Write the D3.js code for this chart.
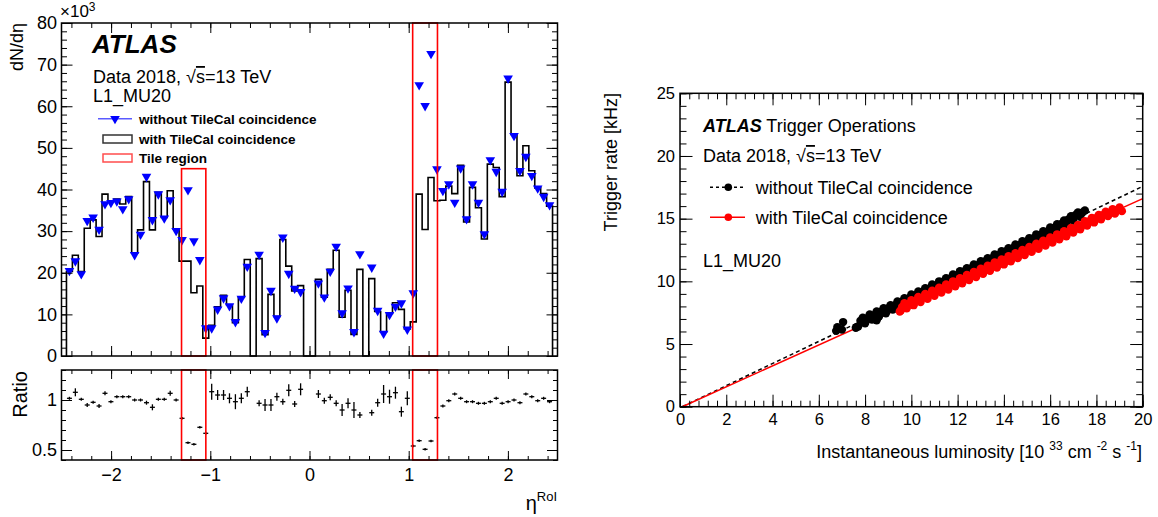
<!DOCTYPE html>
<html>
<head>
<meta charset="utf-8">
<script src="https://cdn.jsdelivr.net/npm/d3@7"></script>
<style>
body{margin:0;background:#fff;}
text{font-family:"Liberation Sans",Arial,Helvetica,sans-serif;}
</style>
</head>
<body>
<svg id="chart" width="1158" height="517"></svg>
<script>
// ---------------- left panel: eta of L1_MU20 RoIs (x10^3) ----------------
var etaLow = -2.45, etaHigh = 2.45;   // 82 equal bins
var withTile = [20.3,24.2,20.3,30.7,32.7,28.7,38.9,37.3,37.7,36.5,
  38.3,24.7,30.3,41.9,30.3,39.3,33.3,39.7,30.5,22.8,
  22.8,15.2,16.8,4.3,7.4,11.8,14.6,12.3,8.0,14.1,
  23.2,0,23.4,5.1,14.8,9.5,28.0,21.6,15.6,16.9,
  0,0,18.4,14.1,20.8,25.4,9.3,15.8,5.2,20.8,
  0,18.6,10.7,5.8,10.2,12.8,11.2,6.5,8.2,38.9,
  30.4,42.9,37.3,37.4,40.8,39.0,45.8,32.2,40.5,35.6,
  28.1,46.1,45.3,38.3,65.8,53.2,43.3,50.5,44.5,40.4,
  39.0,36.0];
var withoutTile = [20.5,22.8,19.7,32.5,33.3,30.4,36.5,36.8,37.2,35.3,
  37.7,24.3,29.2,43.1,32.7,38.9,33.1,37.5,30.1,27.9,
  39.9,27.6,23.1,6.7,6.7,11.2,13.9,12.0,8.2,13.8,
  21.5,null,24.4,5.6,15.7,9.1,28.5,19.8,16.2,15.4,
  null,null,17.5,14.1,20.3,26.3,10.3,16.3,5.8,24.5,
  null,21.3,10.9,5.4,9.9,11.9,12.7,6.4,15.1,65.1,
  60.1,72.6,44.9,39.7,41.3,36.9,45.1,32.9,41.3,36.9,
  29.3,47.1,44.3,39.5,66.7,52.9,44.5,47.9,43.3,40.3,
  38.3,36.3];
var ratio = [1.017,1.077,1.007,0.95,0.977,0.94,1.067,0.983,1.033,1.033,
  1.033,1.0,1.0,0.973,0.927,1.007,1.007,1.067,1.0,0.817,
  0.573,0.557,0.727,0.667,1.083,1.05,1.05,1.017,0.983,1.017,
  1.083,null,0.967,0.95,0.95,1.033,0.983,1.097,0.96,1.107,
  null,null,1.06,0.993,1.027,0.967,0.90,0.967,0.90,0.85,
  null,0.873,0.973,1.06,1.033,1.073,0.883,1.017,0.54,0.593,
  0.507,0.59,0.823,0.94,0.993,1.06,1.017,0.983,0.983,0.967,
  0.967,0.983,1.017,0.967,0.983,1.0,0.973,1.06,1.033,0.993,
  1.017,0.983];
var ratioErr = [.015,.04,.015,.02,.015,.02,.02,.015,.015,.015,
  .015,.015,.015,.02,.03,.015,.015,.025,.015,.01,
  .008,.008,.01,.015,.08,.05,.05,.05,.075,.05,
  .05,null,.03,.06,.06,.04,.03,.06,.03,.06,
  null,null,.04,.03,.03,.03,.06,.05,.08,.03,
  null,.03,.04,.09,.07,.06,.05,.07,.008,.008,
  .008,.008,.01,.015,.015,.015,.015,.015,.015,.015,
  .015,.015,.015,.015,.015,.015,.015,.015,.015,.015,
  .015,.015];
// tile regions: [eta from, eta to, top of box in the dN/deta panel]
var tileRegions = [[-1.29,-1.045,45],[1.04,1.29,80]];

// ---------------- right panel: trigger rate vs luminosity ----------------
var ptsWithout = [[6.75,6.05],[6.8,6.35],[7.0,6.15],[7.05,6.75],[7.6,6.3],[8.5,6.9],
  [7.7,6.40],[7.8,6.85],[7.9,7.10],[8.0,6.65],[8.1,7.05],[8.2,7.35],
  [8.3,6.95],[8.4,7.30],[8.5,7.60],[8.6,7.20],[8.7,7.60],[8.8,7.85],
  [8.9,7.45],[9.0,7.85],[9.1,8.10],[9.2,7.75],[9.3,8.10],[9.4,8.40],
  [9.5,8.00],[9.6,8.40],[9.7,8.65],[9.8,8.25],[9.9,8.65],[10.0,8.95],
  [10.1,8.55],[10.2,8.90],[10.3,9.20],[10.4,8.80],[10.5,9.20],[10.6,9.45],
  [10.7,9.05],[10.8,9.45],[10.9,9.75],[11.0,9.35],[11.1,9.70],[11.2,10.00],
  [11.3,9.60],[11.4,10.00],[11.5,10.25],[11.6,9.85],[11.7,10.25],[11.8,10.55],
  [11.9,10.15],[12.0,10.50],[12.1,10.80],[12.2,10.40],[12.3,10.80],[12.4,11.05],
  [12.5,10.65],[12.6,11.05],[12.7,11.35],[12.8,10.95],[12.9,11.30],[13.0,11.60],
  [13.1,11.20],[13.2,11.60],[13.3,11.85],[13.4,11.45],[13.5,11.85],[13.6,12.15],
  [13.7,11.75],[13.8,12.10],[13.9,12.40],[14.0,12.00],[14.1,12.40],[14.2,12.65],
  [14.3,12.25],[14.4,12.65],[14.5,12.95],[14.6,12.55],[14.7,12.90],[14.8,13.20],
  [14.9,12.80],[15.0,13.20],[15.1,13.45],[15.2,13.05],[15.3,13.45],[15.4,13.75],
  [15.5,13.35],[15.6,13.70],[15.7,14.00],[15.8,13.60],[15.9,14.00],[16.0,14.30],
  [16.1,13.90],[16.2,14.30],[16.3,14.55],[16.4,14.20],[16.5,14.60],[16.6,14.85],
  [16.7,14.50],[16.8,14.95],[16.9,15.20],[17.0,14.85],[17.1,15.30],[17.2,15.50],
  [17.3,15.15],[17.4,15.50],[17.5,15.65]];
var ptsWith = [[9.55,7.7],
  [9.5,7.6],[9.6,7.95],[9.7,8.25],[9.8,7.85],[9.9,8.2],[10.0,8.5],
  [10.1,8.1],[10.2,8.45],[10.3,8.75],[10.4,8.35],[10.5,8.7],[10.6,9.0],
  [10.7,8.6],[10.8,8.95],[10.9,9.25],[11.0,8.85],[11.1,9.2],[11.2,9.5],
  [11.3,9.1],[11.4,9.45],[11.5,9.75],[11.6,9.35],[11.7,9.7],[11.8,10.0],
  [11.9,9.6],[12.0,9.95],[12.1,10.25],[12.2,9.85],[12.3,10.2],[12.4,10.5],
  [12.5,10.1],[12.6,10.45],[12.7,10.75],[12.8,10.35],[12.9,10.7],[13.0,11.0],
  [13.1,10.6],[13.2,10.95],[13.3,11.25],[13.4,10.85],[13.5,11.2],[13.6,11.5],
  [13.7,11.1],[13.8,11.45],[13.9,11.75],[14.0,11.35],[14.1,11.7],[14.2,12.0],
  [14.3,11.6],[14.4,11.95],[14.5,12.25],[14.6,11.85],[14.7,12.2],[14.8,12.5],
  [14.9,12.1],[15.0,12.45],[15.1,12.75],[15.2,12.35],[15.3,12.7],[15.4,13.0],
  [15.5,12.6],[15.6,12.95],[15.7,13.25],[15.8,12.85],[15.9,13.2],[16.0,13.5],
  [16.1,13.1],[16.2,13.45],[16.3,13.75],[16.4,13.35],[16.5,13.7],[16.6,14.0],
  [16.7,13.6],[16.8,13.95],[16.9,14.25],[17.0,13.9],[17.1,14.2],[17.2,14.5],
  [17.3,14.15],[17.4,14.5],[17.5,14.8],[17.6,14.45],[17.7,14.8],[17.8,15.05],
  [17.9,14.7],[18.0,15.05],[18.1,15.3],[18.2,14.95],[18.3,15.3],[18.4,15.55],
  [18.5,15.2],[18.6,15.5],[18.7,15.75],[18.8,15.4],[18.9,15.7],[19.0,15.9],
  [19.1,15.6]];
// linear fits: [slope, luminosity at zero rate]
var fitWithout = [0.883, 0.1];
var fitWith = [0.834, 0.1];

var svg = d3.select('#chart');

// ROOT style inward ticks: minor ticks first, then majors (with labels)
function ticks(g, axisFn, scale, tr, minors, minLen, majors, majLen, fmt, pad, fs){
  g.append('g').attr('transform', tr)
    .call(axisFn(scale).tickValues(minors).tickSize(-minLen).tickFormat(''));
  var a = g.append('g').attr('transform', tr)
    .call(axisFn(scale).tickValues(majors).tickSize(-majLen).tickPadding(pad)
      .tickFormat(fmt ? fmt : ''));
  a.attr('font-size', fs).attr('font-family', null);
  g.selectAll('.domain').remove();
  g.selectAll('.tick line').attr('stroke', '#000').attr('stroke-width', 1);
  g.selectAll('.tick text').attr('fill', '#000');
}
function steps(a, b, s){
  var out = [];
  for (var i = Math.round(a/s); i <= Math.round(b/s); i++) out.push(+(i*s).toFixed(4));
  return out;
}

// ============ left panel ============
var nBins = withTile.length;
var bw = (etaHigh - etaLow)/nBins;
function edge(i){ return etaLow + i*bw; }
var xE = d3.scaleLinear().domain([-2.5,2.5]).range([61.5,557.5]);
var yN = d3.scaleLinear().domain([0,80]).range([356,23]);
var yR = d3.scaleLinear().domain([0.4,1.3]).range([460,370]);

var left = svg.append('g');

// histogram "with TileCal coincidence"
var hpts = [[edge(0),0]];
withTile.forEach(function(v,i){ hpts.push([edge(i),v],[edge(i+1),v]); });
hpts.push([edge(nBins),0]);
left.append('path')
  .attr('d', d3.line().x(function(d){return xE(d[0]);}).y(function(d){return yN(d[1]);})(hpts))
  .attr('fill','none').attr('stroke','#000').attr('stroke-width',1.6);

// markers "without TileCal coincidence"
var tri = d3.symbol().type(d3.symbolTriangle).size(40)();
left.selectAll('path.mk').data(withoutTile.map(function(v,i){return {v:v,i:i};}).filter(function(d){return d.v!=null;}))
  .enter().append('path').attr('class','mk')
  .attr('d', tri)
  .attr('transform', function(d){return 'translate('+xE(edge(d.i)+bw/2)+','+yN(d.v)+') rotate(180)';})
  .attr('fill','#0000ff');

// ratio points
var rp = ratio.map(function(v,i){return {v:v,e:ratioErr[i],i:i};}).filter(function(d){return d.v!=null;});
var rg = left.selectAll('g.rp').data(rp).enter().append('g').attr('class','rp');
rg.append('line')
  .attr('x1', function(d){return xE(edge(d.i)+bw*0.08);})
  .attr('x2', function(d){return xE(edge(d.i+1)-bw*0.08);})
  .attr('y1', function(d){return yR(d.v);}).attr('y2', function(d){return yR(d.v);})
  .attr('stroke','#000').attr('stroke-width',1.3);
rg.append('line')
  .attr('x1', function(d){return xE(edge(d.i)+bw/2);})
  .attr('x2', function(d){return xE(edge(d.i)+bw/2);})
  .attr('y1', function(d){return yR(d.v-Math.max(d.e,0.012));})
  .attr('y2', function(d){return yR(d.v+Math.max(d.e,0.012));})
  .attr('stroke','#000').attr('stroke-width',1.3);

// tile region boxes
tileRegions.forEach(function(t){
  left.append('rect').attr('x', xE(t[0])).attr('width', xE(t[1])-xE(t[0]))
    .attr('y', yN(t[2])).attr('height', yN(0)-yN(t[2]))
    .attr('fill','none').attr('stroke','#ff0000').attr('stroke-width',1.6);
  left.append('rect').attr('x', xE(t[0])).attr('width', xE(t[1])-xE(t[0]))
    .attr('y', yR(1.3)).attr('height', yR(0.4)-yR(1.3))
    .attr('fill','none').attr('stroke','#ff0000').attr('stroke-width',1.6);
});

// frames
left.append('rect').attr('x',xE(-2.5)).attr('y',yN(80)).attr('width',xE(2.5)-xE(-2.5)).attr('height',yN(0)-yN(80))
  .attr('fill','none').attr('stroke','#000').attr('stroke-width',1.5);
left.append('rect').attr('x',xE(-2.5)).attr('y',yR(1.3)).attr('width',xE(2.5)-xE(-2.5)).attr('height',yR(0.4)-yR(1.3))
  .attr('fill','none').attr('stroke','#000').attr('stroke-width',1.5);

var etaMajor = [-2,-1,0,1,2];
var etaMinor = steps(-2.4,2.4,0.2);
var lt = left.append('g');
ticks(lt, d3.axisBottom, xE, 'translate(0,'+yN(0)+')', etaMinor, 5, etaMajor, 10, null, 0, 18);
ticks(lt, d3.axisTop, xE, 'translate(0,'+yN(80)+')', etaMinor, 5, etaMajor, 10, null, 0, 18);
ticks(lt, d3.axisLeft, yN, 'translate('+xE(-2.5)+',0)', steps(0,80,2), 5.5, steps(0,80,10), 11, d3.format('d'), 4.5, 18);
ticks(lt, d3.axisRight, yN, 'translate('+xE(2.5)+',0)', steps(0,80,2), 5.5, steps(0,80,10), 11, null, 0, 18);
ticks(lt, d3.axisBottom, xE, 'translate(0,'+yR(0.4)+')', etaMinor, 4, etaMajor, 9, d3.format('d'), 8, 18);
ticks(lt, d3.axisTop, xE, 'translate(0,'+yR(1.3)+')', etaMinor, 4, etaMajor, 9, null, 0, 18);
ticks(lt, d3.axisLeft, yR, 'translate('+xE(-2.5)+',0)', steps(0.4,1.3,0.1), 4.5, [0.5,1], 10.5, function(d){return d===1?'1':'0.5';}, 4.5, 18);
ticks(lt, d3.axisRight, yR, 'translate('+xE(2.5)+',0)', steps(0.4,1.3,0.1), 4.5, [0.5,1], 10.5, null, 0, 18);

// left texts
var t1 = left.append('text').attr('x',60).attr('y',17).attr('font-size',17);
t1.append('tspan').text('\u00d710');
t1.append('tspan').attr('dy',-6).attr('font-size',12).text('3');
left.append('text').attr('transform','translate(23,23) rotate(-90)').attr('text-anchor','end')
  .attr('font-size',18).text('dN/d\u03b7');
left.append('text').attr('transform','translate(27,371) rotate(-90)').attr('text-anchor','end')
  .attr('font-size',20).text('Ratio');
var xt = left.append('text').attr('x',557).attr('y',510).attr('text-anchor','end').attr('font-size',20);
xt.append('tspan').text('\u03b7');
xt.append('tspan').attr('dy',-9).attr('font-size',13).text('RoI');

left.append('text').attr('x',92).attr('y',53).attr('font-size',26).attr('font-weight','bold')
  .attr('font-style','italic').text('ATLAS');
var d1 = left.append('text').attr('x',93).attr('y',83).attr('font-size',18);
d1.append('tspan').text('Data 2018, \u221a');
d1.append('tspan').style('text-decoration','overline').text('s');
d1.append('tspan').text('=13 TeV');
left.append('text').attr('x',93).attr('y',102).attr('font-size',18).text('L1_MU20');

// left legend
var lg = left.append('g');
lg.append('line').attr('x1',98).attr('x2',132).attr('y1',118.7).attr('y2',118.7)
  .attr('stroke','#5a5aff').attr('stroke-width',1.5);
lg.append('path').attr('d',tri).attr('transform','translate(115,118.7) rotate(180)').attr('fill','#0000ff');
lg.append('rect').attr('x',103).attr('y',135).attr('width',29).attr('height',8)
  .attr('fill','none').attr('stroke','#333').attr('stroke-width',1.5);
lg.append('rect').attr('x',103).attr('y',154).attr('width',29).attr('height',8)
  .attr('fill','none').attr('stroke','#ff4d4d').attr('stroke-width',1.5);
[['without TileCal coincidence',124],['with TileCal coincidence',144],['Tile region',163]].forEach(function(l){
  lg.append('text').attr('x',139).attr('y',l[1]).attr('font-size',13.5).attr('font-weight','bold').text(l[0]);
});

// ============ right panel ============
var xL = d3.scaleLinear().domain([0,20]).range([680,1142.7]);
var yT = d3.scaleLinear().domain([0,25]).range([406.7,93.3]);
var right = svg.append('g');

function fitLine(f){
  return d3.line().x(function(d){return xL(d);}).y(function(d){return yT(f[0]*(d-f[1]));})([f[1],20]);
}
right.append('path').attr('d', fitLine(fitWithout)).attr('fill','none')
  .attr('stroke','#000').attr('stroke-width',1.5).attr('stroke-dasharray','4,3');
right.append('path').attr('d', fitLine(fitWith)).attr('fill','none')
  .attr('stroke','#ff0000').attr('stroke-width',1.5);

right.selectAll('circle.wo').data(ptsWithout).enter().append('circle').attr('class','wo')
  .attr('cx',function(d){return xL(d[0]);}).attr('cy',function(d){return yT(d[1]);})
  .attr('r',4.2).attr('fill','#000');
right.selectAll('circle.wi').data(ptsWith).enter().append('circle').attr('class','wi')
  .attr('cx',function(d){return xL(d[0]);}).attr('cy',function(d){return yT(d[1]);})
  .attr('r',4.2).attr('fill','#ff0000');

right.append('rect').attr('x',xL(0)).attr('y',yT(25)).attr('width',xL(20)-xL(0)).attr('height',yT(0)-yT(25))
  .attr('fill','none').attr('stroke','#000').attr('stroke-width',1.5);
var rt = right.append('g');
ticks(rt, d3.axisBottom, xL, 'translate(0,'+yT(0)+')', steps(0,20,0.4), 6, steps(0,20,2), 12, d3.format('d'), 6.6, 16.5);
ticks(rt, d3.axisTop, xL, 'translate(0,'+yT(25)+')', steps(0,20,0.4), 6, steps(0,20,2), 12, null, 0, 16.5);
ticks(rt, d3.axisLeft, yT, 'translate('+xL(0)+',0)', steps(0,25,1), 6.5, steps(0,25,5), 12.5, d3.format('d'), 5, 16.5);
ticks(rt, d3.axisRight, yT, 'translate('+xL(20)+',0)', steps(0,25,1), 6.5, steps(0,25,5), 12.5, null, 0, 16.5);

right.append('text').attr('transform','translate(617,93) rotate(-90)').attr('text-anchor','end')
  .attr('font-size',18).text('Trigger rate [kHz]');
var lx = right.append('text').attr('x',1142).attr('y',458).attr('text-anchor','end').attr('font-size',18);
lx.append('tspan').text('Instantaneous luminosity [10 ');
lx.append('tspan').attr('dy',-8).attr('font-size',12).text('33');
lx.append('tspan').attr('dy',8).text(' cm ');
lx.append('tspan').attr('dy',-8).attr('font-size',12).text('-2');
lx.append('tspan').attr('dy',8).text(' s ');
lx.append('tspan').attr('dy',-8).attr('font-size',12).text('-1');
lx.append('tspan').attr('dy',8).text(']');

var at = right.append('text').attr('x',703).attr('y',132).attr('font-size',18);
at.append('tspan').attr('font-weight','bold').attr('font-style','italic').text('ATLAS');
at.append('tspan').text(' Trigger Operations');
var d2 = right.append('text').attr('x',703).attr('y',162).attr('font-size',18);
d2.append('tspan').text('Data 2018, \u221a');
d2.append('tspan').style('text-decoration','overline').text('s');
d2.append('tspan').text('=13 TeV');
right.append('text').attr('x',703).attr('y',267).attr('font-size',18).text('L1_MU20');

// right legend
var rl = right.append('g');
rl.append('line').attr('x1',710).attr('x2',745).attr('y1',187.3).attr('y2',187.3)
  .attr('stroke','#000').attr('stroke-width',1.5).attr('stroke-dasharray','3,3');
rl.append('circle').attr('cx',728.3).attr('cy',187.3).attr('r',3.8).attr('fill','#000');
rl.append('line').attr('x1',710).attr('x2',745).attr('y1',217.3).attr('y2',217.3)
  .attr('stroke','#ff0000').attr('stroke-width',1.5);
rl.append('circle').attr('cx',728.3).attr('cy',217.3).attr('r',3.8).attr('fill','#ff0000');
rl.append('text').attr('x',755.7).attr('y',193.5).attr('font-size',18).text('without TileCal coincidence');
rl.append('text').attr('x',755.7).attr('y',223.5).attr('font-size',18).text('with TileCal coincidence');
</script>
</body>
</html>
